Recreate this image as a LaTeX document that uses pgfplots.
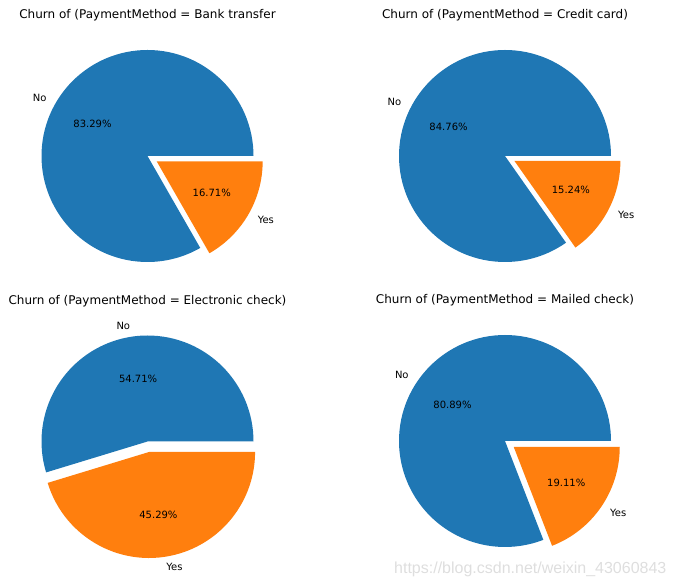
\documentclass[border=0pt]{standalone}
\usepackage{pgfplots}
\pgfplotsset{compat=1.18}
\usepackage{fontspec}
\setmainfont{DejaVu Sans}
\newfontfamily\wmfont{Liberation Sans}
\definecolor{c0}{HTML}{1F77B4}
\definecolor{c1}{HTML}{FF7F0E}

% #1 centre x (bp), #2 centre y (bp), #3 No %, #4 Yes %, #5 title
\newcommand{\pie}[5]{%
  \pgfmathsetmacro\aNo{3.6*#3}%
  \pgfmathsetmacro\mNo{\aNo/2}%
  \pgfmathsetmacro\mYes{(\aNo+360)/2}%
  \pgfmathsetmacro\ex{0.1*cos(\mYes)}%
  \pgfmathsetmacro\ey{0.1*sin(\mYes)}%
  \pgfmathsetmacro\nlx{1.1*cos(\mNo)}%
  \pgfmathsetmacro\nly{1.1*sin(\mNo)}%
  \pgfmathsetmacro\npx{0.6*cos(\mNo)}%
  \pgfmathsetmacro\npy{0.6*sin(\mNo)}%
  \pgfmathsetmacro\ylx{\ex+1.1*cos(\mYes)}%
  \pgfmathsetmacro\yly{\ey+1.1*sin(\mYes)}%
  \pgfmathsetmacro\ypx{\ex+0.6*cos(\mYes)}%
  \pgfmathsetmacro\ypy{\ey+0.6*sin(\mYes)}%
  \pgfmathparse{\nlx<0?"east":"west"}\edef\nanch{\pgfmathresult}%
  \pgfmathparse{\ylx<0?"east":"west"}\edef\yanch{\pgfmathresult}%
  \begin{axis}[at={(#1bp,#2bp)}, anchor=center,
    scale only axis, width=265bp, height=265bp,
    xmin=-1.25, xmax=1.25, ymin=-1.25, ymax=1.25,
    hide axis, clip=false]
    \fill[c0] (axis cs:0,0) -- (axis cs:1,0) arc[start angle=0, end angle=\aNo, radius=106bp] -- cycle;
    \fill[c1] (axis cs:\ex,\ey) -- ++(axis direction cs:{cos(\aNo)},{sin(\aNo)}) arc[start angle=\aNo, end angle=360, radius=106bp] -- cycle;
    \node[anchor=\nanch, inner sep=0pt, font=\fontsize{10bp}{12bp}\selectfont] at (axis cs:\nlx,\nly) {No};
    \node[anchor=center, inner sep=0pt, font=\fontsize{10bp}{12bp}\selectfont] at (axis cs:\npx,\npy) {#3\%};
    \node[anchor=\yanch, inner sep=0pt, font=\fontsize{10bp}{12bp}\selectfont] at (axis cs:\ylx,\yly) {Yes};
    \node[anchor=center, inner sep=0pt, font=\fontsize{10bp}{12bp}\selectfont] at (axis cs:\ypx,\ypy) {#4\%};
    \node[anchor=base, inner sep=0pt, font=\fontsize{12bp}{14bp}\selectfont] at (axis cs:0,1.297) {#5};
  \end{axis}%
}

\begin{document}
\begin{tikzpicture}
\path[use as bounding box] (0,0) rectangle (675bp,587bp);
\pie{147.5}{431}{83.29}{16.71}{Churn of (PaymentMethod = Bank transfer}
\pie{505}{431}{84.76}{15.24}{Churn of (PaymentMethod = Credit card)}
\pie{147.5}{145.5}{54.71}{45.29}{Churn of (PaymentMethod = Electronic check)}
\pie{505}{146}{80.89}{19.11}{Churn of (PaymentMethod = Mailed check)}
\node[anchor=base west, inner sep=0pt, text=black!13, font=\wmfont\fontsize{16bp}{19bp}\selectfont] at (394bp,13.7bp) {https://blog.csdn.net/weixin\_43060843};
\end{tikzpicture}
\end{document}
